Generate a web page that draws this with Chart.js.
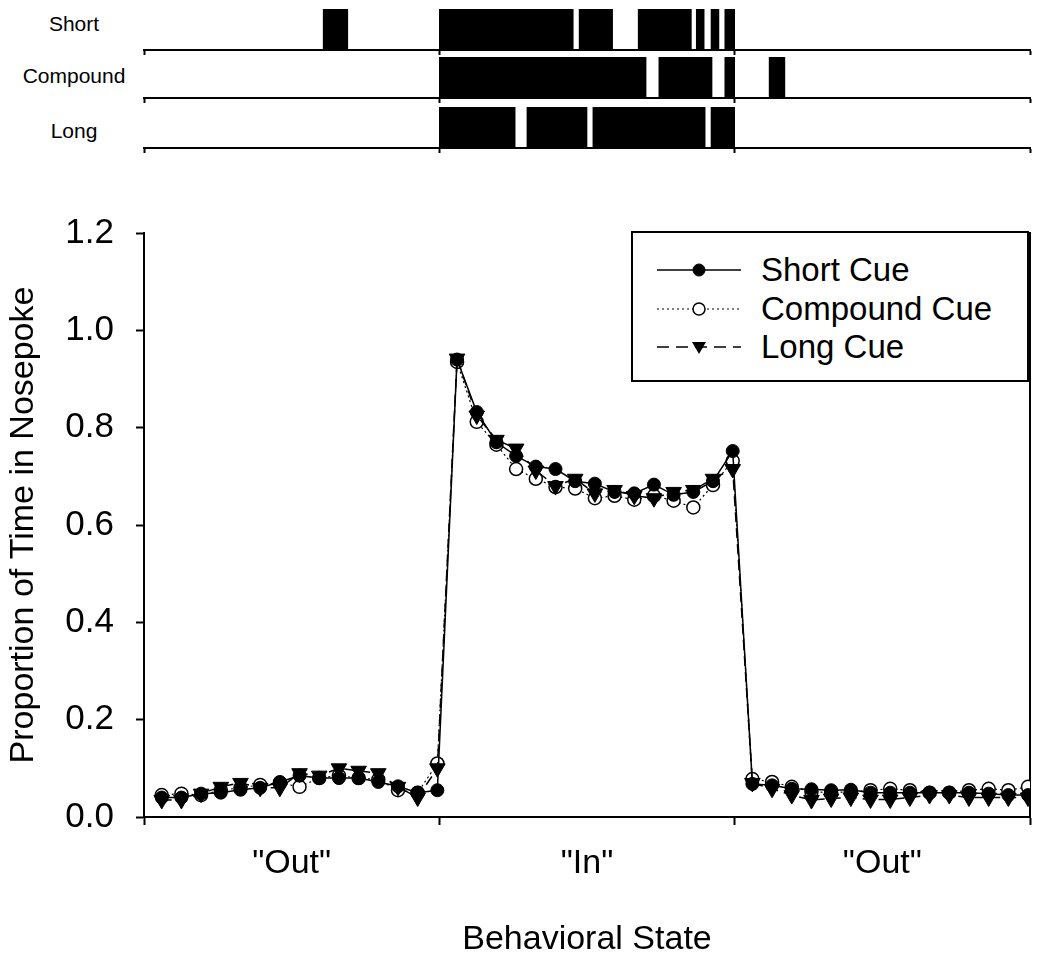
<!DOCTYPE html>
<html>
<head>
<meta charset="utf-8">
<script src="https://cdn.jsdelivr.net/npm/chart.js@4.4.1/dist/chart.umd.min.js"></script>
<style>
    body { margin: 0; background: #fff; }
    #page { position: relative; width: 1050px; height: 964px; font-family: "Liberation Sans", Arial, sans-serif; }
    canvas { position: absolute; left: 0; }
    .row-label { position: absolute; left: 0; width: 148px; height: 24px; line-height: 24px; text-align: center; font-size: 21px; color: #000; }
    #legend { position: absolute; left: 631px; top: 231px; width: 394px; height: 147px; border: 2px solid #000; background: #fff; }
    .leg-item { position: absolute; left: 24px; height: 40px; display: flex; align-items: center; }
    .leg-item span { margin-left: 20px; font-size: 33px; color: #000; }
</style>
</head>
<body>
<div id="page">
    <div class="row-label" style="top: 12px;">Short</div>
    <div class="row-label" style="top: 64px;">Compound</div>
    <div class="row-label" style="top: 119px;">Long</div>
    <canvas id="rasterShort" width="1050" height="60" style="top: 0px;"></canvas>
    <canvas id="rasterCompound" width="1050" height="58" style="top: 50px;"></canvas>
    <canvas id="rasterLong" width="1050" height="58" style="top: 100px;"></canvas>
    <canvas id="mainChart" width="1050" height="804" style="top: 160px;"></canvas>
    <div id="legend"></div>
</div>
<script>
// time bins: 15 "Out", 15 "In", 15 "Out"
const stateLabels = ['"Out"', '"In"', '"Out"'];
const binsPerState = 15;

const shortCue = [
    0.040, 0.040, 0.048, 0.050, 0.056, 0.060, 0.072, 0.085, 0.080, 0.080, 0.080, 0.072, 0.063, 0.050, 0.055,
    0.940, 0.832, 0.770, 0.742, 0.720, 0.715, 0.690, 0.685, 0.668, 0.665, 0.683, 0.662, 0.668, 0.690, 0.752,
    0.068, 0.065, 0.058, 0.057, 0.055, 0.056, 0.050, 0.050, 0.050, 0.050, 0.050, 0.050, 0.048, 0.045, 0.045,
];
const compoundCue = [
    0.045, 0.048, 0.045, 0.055, 0.060, 0.066, 0.070, 0.062, 0.080, 0.085, 0.080, 0.077, 0.055, 0.050, 0.110,
    0.935, 0.812, 0.765, 0.715, 0.695, 0.678, 0.675, 0.655, 0.660, 0.652, 0.660, 0.650, 0.636, 0.682, 0.732,
    0.078, 0.072, 0.062, 0.052, 0.050, 0.052, 0.055, 0.058, 0.055, 0.050, 0.050, 0.055, 0.058, 0.055, 0.062,
];
const longCue = [
    0.035, 0.035, 0.048, 0.062, 0.070, 0.060, 0.060, 0.090, 0.085, 0.100, 0.095, 0.090, 0.062, 0.040, 0.100,
    0.942, 0.825, 0.775, 0.757, 0.712, 0.680, 0.695, 0.665, 0.672, 0.660, 0.655, 0.668, 0.672, 0.695, 0.715,
    0.070, 0.058, 0.045, 0.035, 0.038, 0.040, 0.036, 0.036, 0.040, 0.045, 0.045, 0.040, 0.040, 0.040, 0.040,
];

// example event raster (start, end in bins) for each cue type
const shortEvents = [[9.1, 10.35], [15, 21.8], [22.1, 23.8], [25.1, 27.8], [28.05, 28.45], [28.8, 29.2], [29.5, 30]];
const compoundEvents = [[15, 25.5], [26.15, 28.85], [29.5, 30], [31.75, 32.55]];
const longEvents = [[15, 18.85], [19.45, 22.5], [22.8, 28.5], [28.8, 30]];

const yTicks = [0, 0.2, 0.4, 0.6, 0.8, 1.0, 1.2];

const totalBins = binsPerState * stateLabels.length;
const font = "'Liberation Sans', Arial, sans-serif";

function toPoints(values) {
    return values.map((v, i) => ({ x: i + 0.9, y: v }));
}

function makeRaster(id, events, padTop) {
    const ctx = document.getElementById(id).getContext("2d");
    return new Chart(ctx, {
        type: "bar",
        data: {
            labels: ["row"],
            datasets: events.map((ev) => ({
                data: [ev],
                backgroundColor: "#000",
                borderWidth: 0,
                barPercentage: 1,
                categoryPercentage: 1,
                grouped: false,
            })),
        },
        options: {
            indexAxis: "y",
            responsive: false,
            animation: false,
            events: [],
            layout: { padding: { left: 144, right: 20, top: padTop, bottom: 0 } },
            plugins: { legend: { display: false }, tooltip: { enabled: false } },
            scales: {
                y: { display: false },
                x: {
                    type: "linear",
                    min: 0,
                    max: totalBins,
                    ticks: { display: false, stepSize: binsPerState },
                    grid: { drawOnChartArea: false, tickLength: 5, tickWidth: 2, tickColor: "#000" },
                    border: { display: true, color: "#000", width: 2 },
                    afterFit: (scale) => { scale.height = 10; },
                },
            },
        },
    });
}

makeRaster("rasterShort", shortEvents, 9);
makeRaster("rasterCompound", compoundEvents, 7);
makeRaster("rasterLong", longEvents, 7);

const mainCtx = document.getElementById("mainChart").getContext("2d");
new Chart(mainCtx, {
    type: "line",
    data: {
        datasets: [
            {
                label: "Compound Cue",
                data: toPoints(compoundCue),
                borderColor: "#000",
                borderWidth: 1.2,
                borderDash: [2, 3],
                pointStyle: "circle",
                pointRadius: 6.5,
                pointBackgroundColor: "#fff",
                pointBorderColor: "#000",
                pointBorderWidth: 1.5,
                order: 3,
            },
            {
                label: "Short Cue",
                data: toPoints(shortCue),
                borderColor: "#000",
                borderWidth: 1.5,
                pointStyle: "circle",
                pointRadius: 6.5,
                pointBackgroundColor: "#000",
                pointBorderColor: "#000",
                pointBorderWidth: 1,
                order: 2,
            },
            {
                label: "Long Cue",
                data: toPoints(longCue),
                borderColor: "#000",
                borderWidth: 1.5,
                borderDash: [10, 6],
                pointStyle: "triangle",
                pointRotation: 180,
                pointRadius: 9,
                pointBackgroundColor: "#000",
                pointBorderColor: "#000",
                pointBorderWidth: 1,
                order: 1,
            },
        ],
    },
    options: {
        responsive: false,
        animation: false,
        events: [],
        layout: { padding: { left: 0, right: 20, top: 73, bottom: 0 } },
        plugins: { legend: { display: false }, tooltip: { enabled: false } },
        scales: {
            x: {
                type: "linear",
                min: 0,
                max: totalBins,
                afterBuildTicks: (scale) => {
                    const ticks = [];
                    for (let v = 0; v <= totalBins; v += binsPerState / 2) ticks.push({ value: v });
                    scale.ticks = ticks;
                },
                ticks: {
                    autoSkip: false,
                    maxRotation: 0,
                    padding: 18,
                    color: "#000",
                    font: { family: font, size: 34 },
                    callback: (v) => (v % binsPerState === 0 ? "" : stateLabels[Math.floor(v / binsPerState)]),
                },
                grid: {
                    drawOnChartArea: false,
                    tickLength: 8,
                    tickWidth: 2,
                    tickColor: (c) => (c.tick && c.tick.value % binsPerState === 0 ? "#000" : "rgba(0,0,0,0)"),
                },
                border: { display: true, color: "#000", width: 2 },
                title: {
                    display: true,
                    text: "Behavioral State",
                    color: "#000",
                    font: { family: font, size: 34, lineHeight: 1 },
                    padding: { top: 0, bottom: 7 },
                },
                afterFit: (scale) => { scale.height = 147; },
            },
            y: {
                min: 0,
                max: 1.2,
                afterBuildTicks: (scale) => { scale.ticks = yTicks.map((v) => ({ value: v })); },
                ticks: {
                    padding: 22,
                    color: "#000",
                    font: { family: font, size: 35 },
                    callback: (v) => v.toFixed(1),
                },
                grid: { drawOnChartArea: false, tickLength: 8, tickWidth: 2, tickColor: "#000" },
                border: { display: true, color: "#000", width: 2 },
                title: {
                    display: true,
                    text: "Proportion of Time in Nosepoke",
                    color: "#000",
                    font: { family: font, size: 34, lineHeight: 1 },
                    padding: { top: 7, bottom: 0 },
                },
                afterFit: (scale) => { scale.width = 144; },
            },
            yRight: {
                position: "right",
                min: 0,
                max: 1.2,
                ticks: { display: false },
                grid: { display: false },
                border: { display: true, color: "#000", width: 2 },
                afterFit: (scale) => { scale.width = 0; },
            },
        },
    },
});

// html legend
const legendItems = [
    { label: "Short Cue", dash: "", marker: '<circle cx="42" cy="20" r="6" fill="#000" stroke="#000"/>' },
    { label: "Compound Cue", dash: "2 3", marker: '<circle cx="42" cy="20" r="6" fill="#fff" stroke="#000" stroke-width="1.5"/>' },
    { label: "Long Cue", dash: "12 7", marker: '<polygon points="35,15 49,15 42,27" fill="#000"/>' },
];
document.getElementById("legend").innerHTML = legendItems
    .map((item, i) => `
        <div class="leg-item" style="top: ${17 + i * 38.5}px;">
            <svg width="84" height="40"><line x1="0" y1="20" x2="84" y2="20" stroke="#000" stroke-width="${item.dash === "2 3" ? 1.2 : 1.5}" stroke-dasharray="${item.dash}"/>${item.marker}</svg>
            <span>${item.label}</span>
        </div>`)
    .join("");
</script>
</body>
</html>
